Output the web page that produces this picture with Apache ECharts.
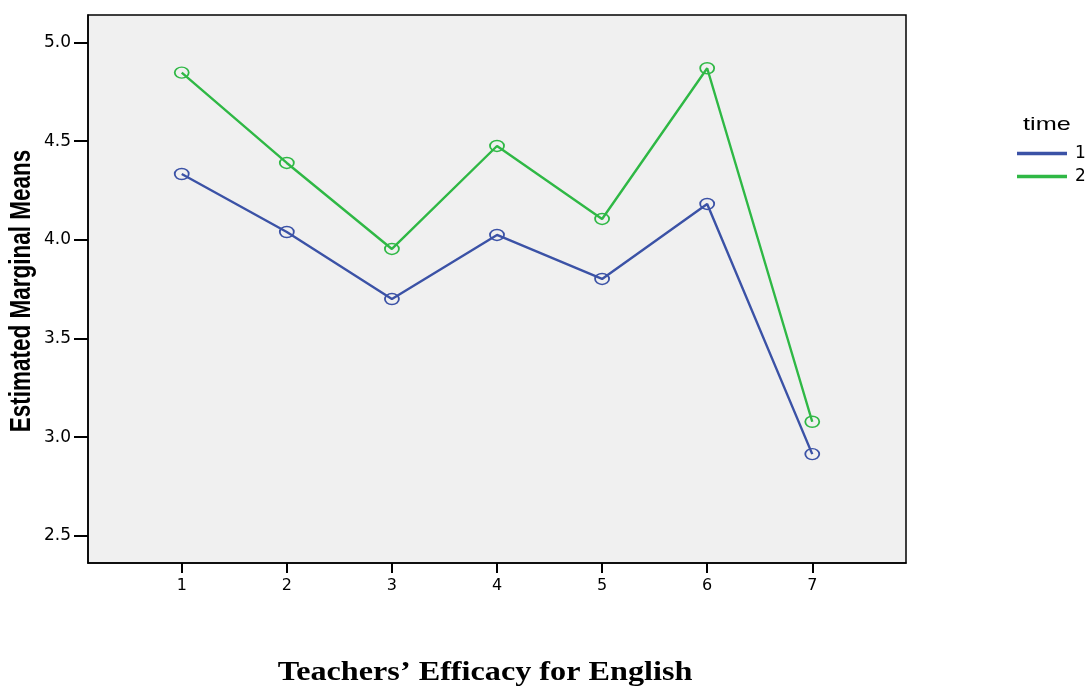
<!DOCTYPE html>
<html>
<head>
<meta charset="utf-8">
<script src="https://cdn.jsdelivr.net/npm/echarts@6/dist/echarts.min.js"></script>
<style>html,body{margin:0;padding:0;background:#fff;}#c{width:1086px;height:688px;}</style>
</head>
<body>
<div id="c"></div>
<script>
var categories = [1, 2, 3, 4, 5, 6, 7];
var time1 = [4.334, 4.040, 3.700, 4.025, 3.802, 4.182, 2.914];
var time2 = [4.848, 4.390, 3.954, 4.476, 4.106, 4.870, 3.078];
var yTicks = [2.5, 3.0, 3.5, 4.0, 4.5, 5.0];
var seriesNames = ['1', '2'];
var legendTitle = 'time';
var xTitle = 'Teachers\u2019 Efficacy for English';
var yTitle = 'Estimated Marginal Means';

var blue = '#3b52a6';
var green = '#2fb845';

function pairs(vals) { return categories.map(function (c, i) { return [c, vals[i]]; }); }
function mkSeries(name, vals, col) {
  return {
    name: name, type: 'line', data: pairs(vals),
    symbol: 'circle', symbolSize: [14, 11],
    itemStyle: { color: 'rgba(0,0,0,0)', borderColor: col, borderWidth: 1.6 },
    lineStyle: { color: col, width: 2.4 },
    emphasis: { disabled: true },
    z: 3
  };
}

var chart = echarts.init(document.getElementById('c'));
chart.setOption({
  animation: false,
  backgroundColor: '#ffffff',
  grid: { left: 88, top: 15, width: 818, height: 548, show: true, backgroundColor: '#f0f0f0', borderColor: '#000', borderWidth: 1.5 },
  xAxis: {
    type: 'value', min: 0.108, max: 7.892,
    axisLine: { show: true, lineStyle: { color: '#000', width: 1.5 } },
    axisTick: { show: true, length: 10, lineStyle: { color: '#000', width: 2 }, customValues: categories },
    axisLabel: { customValues: categories, margin: 15, color: '#000', fontFamily: 'DejaVu Sans', fontSize: 16 },
    splitLine: { show: false }
  },
  yAxis: {
    type: 'value', min: 2.362, max: 5.14,
    axisLine: { show: true, lineStyle: { color: '#000', width: 1.5 } },
    axisTick: { show: true, length: 14, lineStyle: { color: '#000', width: 2 }, customValues: yTicks },
    axisLabel: { customValues: yTicks, margin: 17, color: '#000', fontFamily: 'DejaVu Sans', fontSize: 17,
      formatter: function (v) { return v.toFixed(1); } },
    splitLine: { show: false }
  },
  legend: {
    orient: 'vertical', left: 1017, top: 145, padding: 0,
    data: seriesNames,
    icon: 'rect', itemWidth: 48, itemHeight: 1.5, itemGap: 6,
    textStyle: { color: '#000', fontFamily: 'DejaVu Sans', fontSize: 17, lineHeight: 16, padding: [0, 0, 0, 4] },
    selectedMode: false
  },
  graphic: [
    { type: 'text', x: 1023, y: 125, scaleX: 1.33, style: { text: legendTitle, fill: '#000', font: '19px "Liberation Sans"', textVerticalAlign: 'middle' } },
    { type: 'text', x: 485, y: 673, scaleX: 1.15, style: { text: xTitle, fill: '#000', font: 'bold 28px "Liberation Serif"', textAlign: 'center', textVerticalAlign: 'middle' } },
    { type: 'text', x: 22, y: 291, rotation: Math.PI / 2, scaleY: 1.3, style: { text: yTitle, fill: '#000', font: 'bold 22.5px "Liberation Sans"', textAlign: 'center', textVerticalAlign: 'middle' } }
  ],
  series: [mkSeries(seriesNames[0], time1, blue), mkSeries(seriesNames[1], time2, green)]
});
</script>
</body>
</html>
